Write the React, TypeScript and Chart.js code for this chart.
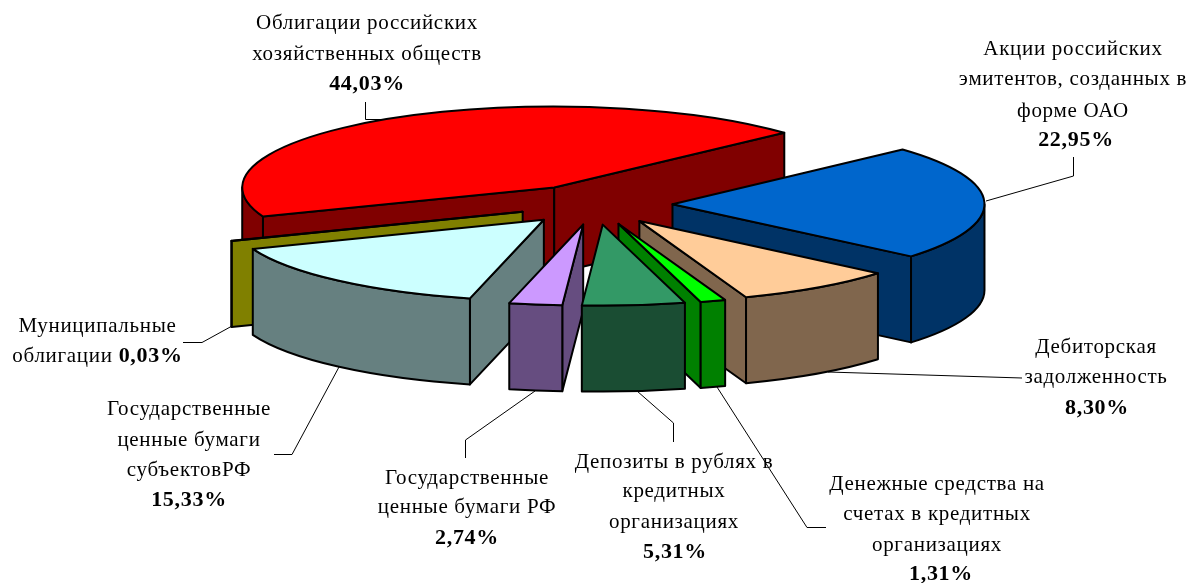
import React, { useEffect, useRef } from "react";
import { Chart, registerables } from "chart.js";

Chart.register(...registerables);

const sliceNames: string[][] = [
  ["Облигации российских", "хозяйственных обществ"],
  ["Акции российских", "эмитентов, созданных в", "форме ОАО"],
  ["Дебиторская", "задолженность"],
  ["Денежные средства на", "счетах в кредитных", "организациях"],
  ["Депозиты в рублях в", "кредитных", "организациях"],
  ["Государственные", "ценные бумаги РФ"],
  ["Государственные", "ценные бумаги", "субъектовРФ"],
  ["Муниципальные", "облигации"],
];
const shareValues = [44.03, 22.95, 8.3, 1.31, 5.31, 2.74, 15.33, 0.03];
const topColors = ["#FF0000", "#0066CC", "#FFCC99", "#00FF00", "#339966", "#CC99FF", "#CCFFFF", "#808000"];
const wallColors = ["#800000", "#003366", "#80664D", "#008000", "#1A4D33", "#664D80", "#668080", "#808000"];

// Label placement: centre x, baseline of each line; last line holds the bold share.
const labelCentres = [367, 1073, 1096, 937, 674, 467, 189, 97.5];
const shareNudges = [0, 3, 1, 4, 1, 0, 0, 0];
const labelBaselines: number[][] = [
  [29, 60, 90],
  [55, 85, 117, 146],
  [353, 383, 414],
  [490, 520, 551, 580],
  [468, 497, 528, 558],
  [484, 513, 544],
  [415, 446, 476, 506],
  [332, 362],
];
// Leader lines, annotation furniture.
const leaders: number[][][] = [
  [[365.5, 102], [365.5, 119.5], [385, 119.5]],
  [[1073.5, 157], [1073.5, 176], [986, 201]],
  [[828, 372], [1022, 378]],
  [[717, 387], [807, 527.5], [826, 527.5]],
  [[637, 391], [673.5, 423], [673.5, 442]],
  [[535, 391], [465.5, 440], [465.5, 458]],
  [[339, 367], [292, 454.5], [274, 454.5]],
  [[232, 326], [202, 342.5], [183, 342.5]],
];

const PIE = { cx: 595, cy: 204.6, rx: 312, ry: 81, depth: 86, explode: 77.5 };
const ROTATION_DEG = -111.0;
const FONT_SIZE = 21;
const FAMILY = '"Liberation Serif", "Times New Roman", serif';
const SPACING = "0.7px";

const pie3d = {
  id: "pie3d",
  beforeDatasetDraw(chart: any) {
    const ctx: CanvasRenderingContext2D = chart.ctx;
    const arcs: any[] = chart.getDatasetMeta(0).data;
    const { cx, cy, rx, ry, depth, explode } = PIE;
    const order = arcs
      .map((a, i) => ({ a, i, mid: (a.startAngle + a.endAngle) / 2 }))
      .sort((p, q) => Math.sin(p.mid) - Math.sin(q.mid));

    ctx.save();
    ctx.lineWidth = 2;
    ctx.lineJoin = "round";
    ctx.strokeStyle = "#000";

    for (const { a, i, mid } of order) {
      const ox = cx + explode * Math.cos(mid);
      const oy = cy + (explode * ry * Math.sin(mid)) / rx;
      const s: number = a.startAngle;
      const e: number = a.endAngle;
      const rim = (t: number): [number, number] => [ox + rx * Math.cos(t), oy + ry * Math.sin(t)];
      ctx.fillStyle = wallColors[i];

      const face = (t: number) => {
        const [px, py] = rim(t);
        ctx.beginPath();
        ctx.moveTo(ox, oy);
        ctx.lineTo(px, py);
        ctx.lineTo(px, py + depth);
        ctx.lineTo(ox, oy + depth);
        ctx.closePath();
        ctx.fill();
        ctx.stroke();
      };
      // A cut face shows only if its outward normal points at the viewer.
      if (Math.cos(s) < 0) face(s);
      if (Math.cos(e) > 0) face(e);

      // Outer wall: only the part on the near half of the ellipse.
      for (let k = -2; k <= 1; k++) {
        const from = Math.max(s, k * 2 * Math.PI);
        const to = Math.min(e, k * 2 * Math.PI + Math.PI);
        if (to <= from) continue;
        const [tx, ty] = rim(to);
        ctx.beginPath();
        ctx.ellipse(ox, oy, rx, ry, 0, from, to);
        ctx.lineTo(tx, ty + depth);
        ctx.ellipse(ox, oy + depth, rx, ry, 0, to, from, true);
        ctx.closePath();
        ctx.fill();
        ctx.stroke();
      }

      // Top face: the library's own arc element, squashed into the ellipse.
      ctx.save();
      ctx.translate(ox, oy);
      ctx.scale(rx / a.outerRadius, ry / a.outerRadius);
      ctx.translate(-a.x, -a.y);
      a.draw(ctx);
      ctx.restore();
      ctx.beginPath();
      ctx.moveTo(ox, oy);
      ctx.ellipse(ox, oy, rx, ry, 0, s, e);
      ctx.closePath();
      ctx.stroke();
    }
    ctx.restore();
    return false;
  },
  afterDraw(chart: any) {
    const ctx: CanvasRenderingContext2D = chart.ctx;
    ctx.save();
    ctx.strokeStyle = "#000";
    ctx.lineWidth = 1;
    for (const pts of leaders) {
      ctx.beginPath();
      pts.forEach(([x, y], n) => (n ? ctx.lineTo(x, y) : ctx.moveTo(x, y)));
      ctx.stroke();
    }
    ctx.fillStyle = "#000";
    ctx.textBaseline = "alphabetic";
    (ctx as any).letterSpacing = SPACING;
    const regular = `${FONT_SIZE}px ${FAMILY}`;
    const bold = `bold ${FONT_SIZE + 1}px ${FAMILY}`;
    sliceNames.forEach((lines, i) => {
      const pct = shareValues[i].toFixed(2).replace(".", ",") + "%";
      const base = labelBaselines[i];
      const centre = labelCentres[i];
      const inline = base.length === lines.length;
      ctx.textAlign = "center";
      ctx.font = regular;
      lines.forEach((line, n) => {
        if (inline && n === lines.length - 1) return;
        ctx.fillText(line, centre, base[n]);
      });
      if (inline) {
        const last = lines[lines.length - 1] + " ";
        ctx.font = regular;
        const w1 = ctx.measureText(last).width;
        ctx.font = bold;
        const w2 = ctx.measureText(pct).width;
        const left = centre - (w1 + w2) / 2;
        ctx.textAlign = "left";
        ctx.font = regular;
        ctx.fillText(last, left, base[base.length - 1]);
        ctx.font = bold;
        ctx.fillText(pct, left + w1, base[base.length - 1]);
      } else {
        ctx.font = bold;
        ctx.fillText(pct, centre + shareNudges[i], base[base.length - 1]);
      }
    });
    ctx.restore();
  },
};

export default function App() {
  const ref = useRef<HTMLCanvasElement>(null);
  useEffect(() => {
    const chart = new Chart(ref.current as HTMLCanvasElement, {
      type: "pie",
      data: {
        labels: sliceNames.map((l) => l.join(" ")),
        datasets: [{ data: shareValues, backgroundColor: topColors, borderWidth: 0 }],
      },
      options: {
        responsive: false,
        animation: false,
        rotation: ROTATION_DEG,
        events: [],
        plugins: { legend: { display: false }, tooltip: { enabled: false } },
      },
      plugins: [pie3d],
    } as any);
    return () => chart.destroy();
  }, []);
  return (
    <div style={{ position: "fixed", left: 0, top: 0, width: 1192, height: 583, background: "#fff" }}>
      <canvas ref={ref} width={1192} height={583} style={{ display: "block" }} />
    </div>
  );
}
